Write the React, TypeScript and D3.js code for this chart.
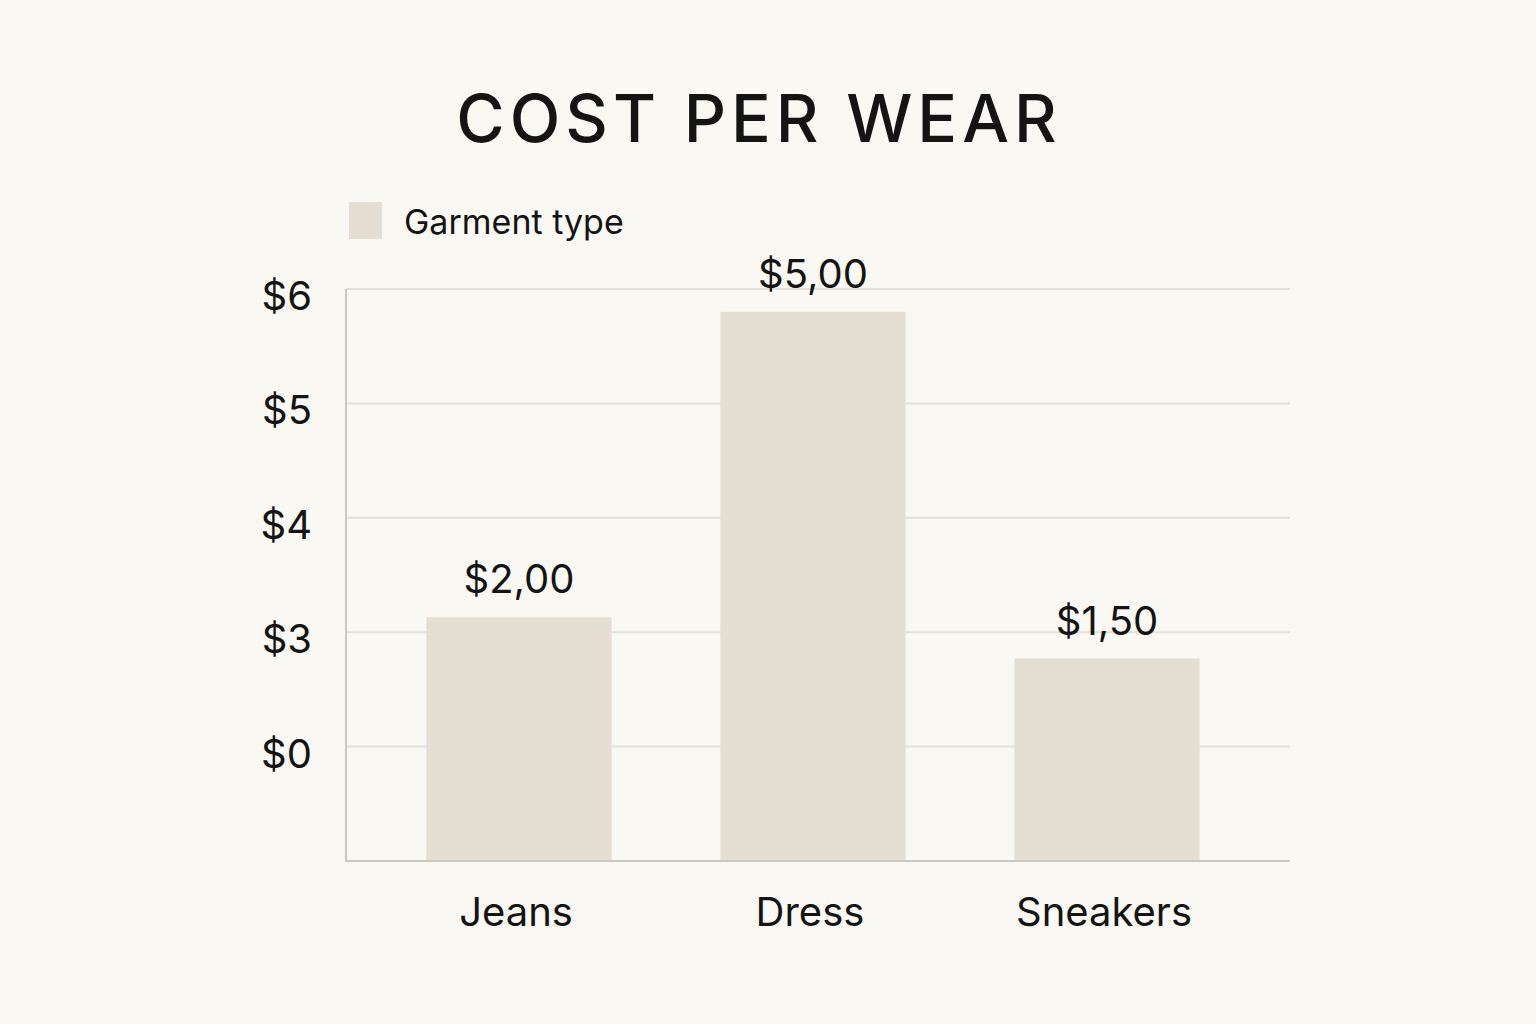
import * as d3 from "d3";

const categories = ["Jeans", "Dress", "Sneakers"];
// bar heights, in grid steps above the baseline
const barHeights = [2.13, 4.8, 1.77];
const valueLabels = ["$2,00", "$5,00", "$1,50"];
// grid lines sit at steps 1..5; their labels as printed
const tickSteps = [1, 2, 3, 4, 5];
const tickLabels = ["$0", "$3", "$4", "$5", "$6"];

const W = 1536;
const H = 1024;
const font = "Inter, 'Noto Sans', sans-serif";
const ink = "#141414";

export default function App() {
  const m = { l: 346, r: 1290, t: 289, b: 861 };
  const x = d3.scaleBand<string>()
    .domain(categories)
    .range([372, 1254])
    .paddingInner(0.37)
    .paddingOuter(0.185);
  const y = d3.scaleLinear().domain([0, 5]).range([m.b, m.t]);

  return (
    <svg width={W} height={H} style={{ position: "absolute", left: 0, top: 0 }}>
      <rect width={W} height={H} fill="#faf8f3" />
      <text x={759} y={142} textAnchor="middle" fontFamily={font} fontWeight={500}
        fontSize={66} letterSpacing={5} fill={ink}>COST PER WEAR</text>

      <rect x={349} y={202} width={33} height={37} fill="#e5dfd3" />
      <text x={404} y={234} fontFamily={font} fontSize={34} fill={ink}>Garment type</text>

      {tickSteps.map((s, i) => (
        <g key={s}>
          <line x1={m.l} x2={m.r} y1={y(s)} y2={y(s)} stroke="#e3e0da" strokeWidth={2} />
          <text x={312} y={y(s) + 21} textAnchor="end" fontFamily={font} fontSize={40}
            fill={ink}>{tickLabels[i]}</text>
        </g>
      ))}

      {categories.map((c, i) => (
        <g key={c}>
          <rect x={x(c)} y={y(barHeights[i])} width={x.bandwidth()}
            height={y(0) - y(barHeights[i])} fill="#e5dfd3" />
          <text x={x(c)! + x.bandwidth() / 2} y={y(barHeights[i]) - 24} textAnchor="middle"
            fontFamily={font} fontSize={40} fill={ink}>{valueLabels[i]}</text>
          <text x={x(c)! + x.bandwidth() / 2 - 3} y={926} textAnchor="middle"
            fontFamily={font} fontSize={40} fill={ink}>{c}</text>
        </g>
      ))}

      <line x1={m.l} x2={m.l} y1={m.t} y2={m.b + 1} stroke="#cac6c0" strokeWidth={2} />
      <line x1={m.l} x2={m.r} y1={m.b} y2={m.b} stroke="#cac6c0" strokeWidth={2} />
    </svg>
  );
}
